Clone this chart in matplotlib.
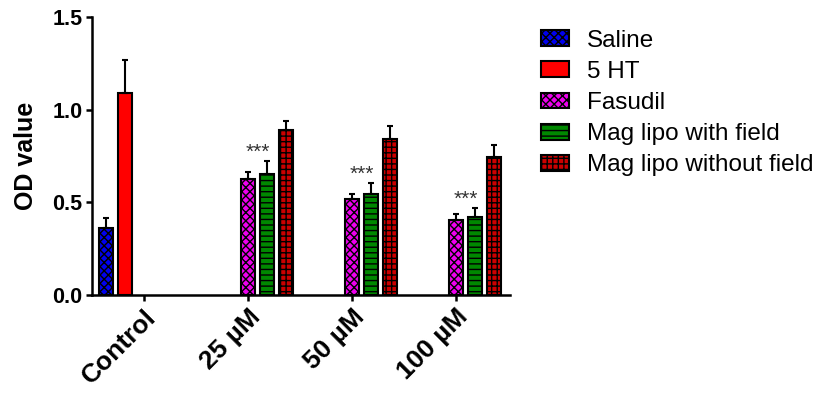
import numpy as np
import matplotlib
matplotlib.use("Agg")
from matplotlib import pyplot as plt

plt.rcParams['font.family'] = ['Liberation Sans', 'DejaVu Sans']
plt.rcParams['hatch.linewidth'] = 1.0

# data
groups = ["Control", "25 µM", "50 µM", "100 µM"]
series = ["Saline", "5 HT", "Fasudil", "Mag lipo with field", "Mag lipo without field"]
nan = np.nan
means = [
    [0.36, nan, nan, nan],        # Saline
    [1.09, nan, nan, nan],        # 5 HT
    [nan, 0.626, 0.518, 0.405],   # Fasudil
    [nan, 0.653, 0.545, 0.421],   # Mag lipo with field
    [nan, 0.89, 0.842, 0.745],    # Mag lipo without field
]
errs = [
    [0.055, nan, nan, nan],
    [0.18, nan, nan, nan],
    [nan, 0.04, 0.027, 0.032],
    [nan, 0.07, 0.06, 0.05],
    [nan, 0.05, 0.07, 0.065],
]
stars = ["", "***", "***", "***"]

colors = ["#0000ee", "#ff0000", "#ee00ee", "#008800", "#cc0000"]
hatches = ["xxxx", None, "xxxx", "---", "+++"]

fig = plt.figure(figsize=(8.23, 3.96), dpi=100)
ax = fig.add_axes([0.1118, 0.255, 0.508, 0.702])

x = np.arange(len(groups))
slot = 0.183
width = 0.135
for i, name in enumerate(series):
    pos = x + (i - 2) * slot
    m = np.array(means[i])
    e = np.array(errs[i])
    ax.bar(pos, m, width, color=colors[i], edgecolor="black", linewidth=1.5,
           hatch=hatches[i], label=name)
    ax.errorbar(pos, m, yerr=[np.zeros_like(e), e], fmt="none", ecolor="black",
                elinewidth=1.5, capsize=2.5, capthick=1.5)

# significance stars over Fasudil / Mag lipo with field
for j, s in enumerate(stars):
    if not s:
        continue
    top = max(means[2][j] + errs[2][j], means[3][j] + errs[3][j])
    ax.text(x[j] + 0.5 * slot, top + 0.045, s, ha="center", va="center",
            fontsize=15, color="#333333")

ax.set_xlim(-0.5, 3.52)
ax.set_ylim(0, 1.5)
ax.set_yticks([0, 0.5, 1.0, 1.5])
ax.set_yticklabels(["0.0", "0.5", "1.0", "1.5"], fontsize=15.5, fontweight="bold")
ax.set_xticks(x)
ax.set_xticklabels(groups, rotation=45, ha="right", rotation_mode="anchor",
                   fontsize=19, fontweight="bold")
ax.set_ylabel("OD value", fontsize=18, fontweight="bold", labelpad=10)
for sp in ["top", "right"]:
    ax.spines[sp].set_visible(False)
for sp in ["left", "bottom"]:
    ax.spines[sp].set_linewidth(1.8)
ax.tick_params(direction="out", length=4, width=1.8, pad=3)

fig.legend(loc="upper left", bbox_to_anchor=(0.645, 0.95), frameon=False,
           fontsize=17.5, handlelength=1.15, handleheight=0.62,
           handletextpad=0.75, labelspacing=0.38, borderaxespad=0)

fig.savefig("out.png", dpi=100)
